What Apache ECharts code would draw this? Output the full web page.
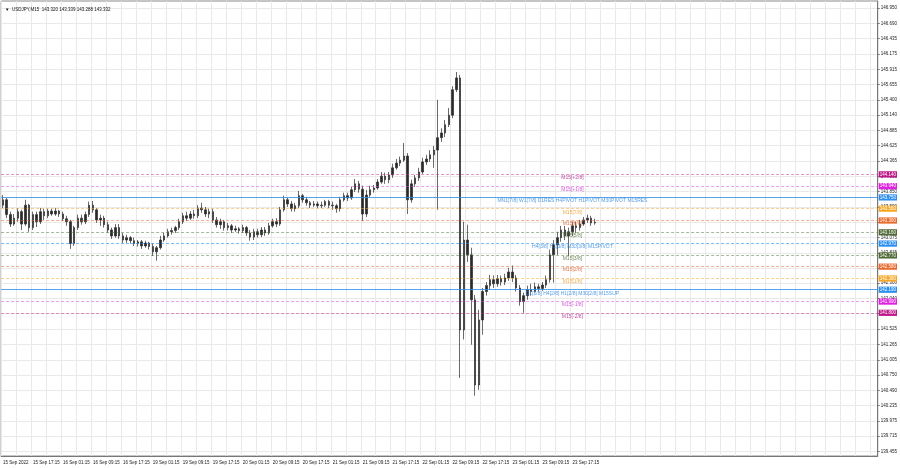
<!DOCTYPE html>
<html><head><meta charset="utf-8">
<script src="https://cdn.jsdelivr.net/npm/echarts@6/dist/echarts.min.js"></script>
<style>html,body{margin:0;padding:0;background:#fff}#c{width:900px;height:468px}</style>
</head><body><div id="c"></div>
<script>
// hourly candles [open, close, low, high]
const candles = [
[143.62,143.71,143.57,143.79],[143.71,143.46,143.40,143.74],[143.46,143.30,143.25,143.51],[143.30,143.40,143.27,143.47],
[143.40,143.51,143.34,143.57],[143.51,143.30,143.20,143.54],[143.30,143.62,143.27,143.71],[143.62,143.24,143.17,143.64],
[143.24,143.46,143.20,143.51],[143.46,143.34,143.25,143.51],[143.34,143.51,143.30,143.57],[143.51,143.44,143.37,143.56],
[143.44,143.52,143.40,143.56],[143.52,143.47,143.44,143.56],[143.47,143.52,143.44,143.57],[143.52,143.47,143.42,143.54],
[143.47,143.39,143.35,143.51],[143.39,143.34,143.27,143.44],[143.34,142.97,142.88,143.37],[142.97,143.24,142.93,143.27],
[143.24,143.40,143.20,143.46],[143.40,143.34,143.29,143.46],[143.34,143.46,143.30,143.51],[143.46,143.62,143.42,143.68],
[143.62,143.54,143.49,143.69],[143.54,143.37,143.32,143.57],[143.37,143.40,143.27,143.46],[143.40,143.29,143.24,143.44],
[143.29,143.20,143.15,143.34],[143.20,143.10,143.05,143.24],[143.10,143.24,143.07,143.30],[143.24,143.10,143.05,143.30],
[143.10,143.03,142.98,143.15],[143.03,143.07,142.98,143.12],[143.07,143.02,142.97,143.10],[143.02,142.97,142.93,143.07],
[142.97,143.00,142.92,143.03],[143.00,142.93,142.88,143.03],[142.93,142.98,142.90,143.02],[142.98,142.92,142.87,143.00],
[142.92,142.83,142.76,142.97],[142.83,142.90,142.68,142.93],[142.90,143.03,142.87,143.10],[143.03,143.10,143.00,143.15],
[143.10,143.17,143.07,143.22],[143.17,143.19,143.12,143.24],[143.19,143.24,143.15,143.27],[143.24,143.34,143.20,143.39],
[143.34,143.44,143.30,143.49],[143.44,143.40,143.35,143.51],[143.40,143.47,143.37,143.52],[143.47,143.44,143.39,143.54],
[143.44,143.57,143.40,143.62],[143.57,143.54,143.49,143.66],[143.54,143.47,143.42,143.59],[143.47,143.51,143.40,143.56],
[143.51,143.37,143.32,143.56],[143.37,143.29,143.24,143.42],[143.29,143.34,143.22,143.39],[143.34,143.24,143.19,143.37],
[143.24,143.27,143.19,143.32],[143.27,143.20,143.15,143.30],[143.20,143.22,143.17,143.27],[143.22,143.19,143.14,143.25],
[143.19,143.24,143.15,143.29],[143.24,143.15,143.10,143.27],[143.15,143.08,143.02,143.20],[143.08,143.17,143.03,143.22],
[143.17,143.12,143.07,143.22],[143.12,143.20,143.08,143.25],[143.20,143.15,143.10,143.25],[143.15,143.27,143.12,143.32],
[143.27,143.34,143.24,143.39],[143.34,143.30,143.25,143.40],[143.30,143.54,143.27,143.59],[143.54,143.71,143.51,143.78],
[143.71,143.64,143.59,143.74],[143.64,143.56,143.51,143.69],[143.56,143.61,143.51,143.66],[143.61,143.78,143.57,143.86],
[143.78,143.71,143.66,143.81],[143.71,143.66,143.61,143.76],[143.66,143.62,143.57,143.69],[143.62,143.64,143.59,143.69],
[143.64,143.61,143.57,143.68],[143.61,143.62,143.57,143.68],[143.62,143.68,143.59,143.71],[143.68,143.62,143.57,143.71],
[143.62,143.61,143.54,143.68],[143.61,143.56,143.49,143.64],[143.56,143.71,143.51,143.76],[143.71,143.78,143.68,143.83],
[143.78,143.74,143.69,143.83],[143.74,143.88,143.71,143.93],[143.88,143.98,143.84,144.06],[143.98,143.89,143.83,144.03],
[143.89,143.47,143.35,143.95],[143.47,143.79,143.42,143.88],[143.79,143.88,143.76,143.95],[143.88,143.91,143.83,143.96],
[143.91,144.01,143.88,144.06],[144.01,144.11,143.98,144.18],[144.11,144.05,143.98,144.17],[144.05,144.13,143.99,144.18],
[144.13,144.25,144.08,144.32],[144.25,144.33,144.22,144.40],[144.33,144.38,144.28,144.44],[144.38,144.45,144.35,144.67],
[144.45,143.71,143.47,144.50],[143.71,143.98,143.66,144.05],[143.98,144.08,143.93,144.13],[144.08,144.18,144.03,144.25],
[144.18,144.35,144.15,144.42],[144.35,144.40,144.30,144.47],[144.40,144.47,144.35,144.55],[144.47,144.55,144.25,144.62],
[144.55,144.76,143.54,145.40],[144.76,144.84,144.69,144.92],[144.84,144.98,144.77,145.06],[144.98,145.14,144.94,145.26],
[145.14,145.57,145.09,145.63],[145.57,145.77,145.53,145.87],[145.77,141.51,140.70,145.82],[141.51,143.03,141.35,143.34],
[143.03,142.78,142.66,143.29],[142.78,142.02,141.26,142.90],[142.02,140.58,140.40,142.10],[140.58,141.68,140.50,141.85],
[141.68,142.16,141.43,142.22],[142.16,142.26,142.09,142.32],[142.26,142.36,142.19,142.44],[142.36,142.29,142.22,142.43],
[142.29,142.38,142.24,142.44],[142.38,142.32,142.26,142.43],[142.32,142.39,142.27,142.46],[142.39,142.49,142.34,142.56],
[142.49,142.39,142.32,142.60],[142.39,142.22,142.16,142.44],[142.22,141.99,141.92,142.27],[141.99,142.09,141.80,142.14],
[142.09,142.19,142.02,142.26],[142.19,142.16,142.09,142.29],[142.16,142.24,142.14,142.31],[142.24,142.21,142.16,142.29],
[142.21,142.27,142.17,142.32],[142.27,142.36,142.22,142.43],[142.36,142.78,142.31,142.87],[142.78,142.95,142.31,143.03],
[142.95,143.07,142.78,143.17],[143.07,143.20,143.00,143.27],[143.20,143.10,143.03,143.27],[143.10,143.17,142.76,143.24],
[143.17,143.27,143.10,143.34],[143.27,143.24,143.15,143.34],[143.24,143.30,143.19,143.37],[143.30,143.37,143.27,143.42],
[143.37,143.40,143.32,143.46],[143.40,143.32,143.27,143.44],[143.32,143.33,143.29,143.39]
];
const timeLabels = ["15 Sep 2022","15 Sep 17:15","16 Sep 01:15","16 Sep 09:15","16 Sep 17:15","19 Sep 01:15","19 Sep 09:15","19 Sep 17:15","20 Sep 01:15","20 Sep 09:15","20 Sep 17:15","21 Sep 01:15","21 Sep 09:15","21 Sep 17:15","22 Sep 01:15","22 Sep 09:15","22 Sep 17:15","23 Sep 01:15","23 Sep 09:15","23 Sep 17:15"];
const slotCount = 234;      // hourly slots across the plot (incl. empty right margin)
const slotsPerLabel = 8;
const slotsPerGrid = 4;
const yTicks = [146.950,146.690,146.435,146.175,145.915,145.655,145.400,145.140,144.885,144.625,144.365,144.105,143.850,143.590,143.335,143.075,142.815,142.560,142.300,142.040,141.785,141.525,141.265,141.005,140.750,140.490,140.235,139.975,139.715,139.455];
const levelValues = [144.141,143.945,143.750,143.555,143.359,143.164,142.969,142.773,142.578,142.383,142.188,141.993,141.797];
const levelNames = ["M15[+2/8]","M15[+1/8]","MN1[7/8] W1[7/8] D1RES H4PIVOT H1PIVOT M30PIVOT M15RES","M15[7/8]","M15[6/8]","M15[5/8]","H4[3/8] H1[3/8] M30[3/8] M15PIVOT","M15[3/8]","M15[2/8]","M15[1/8]","D1[2/8] H4[2/8] H1[2/8] M30[2/8] M15SUP","M15[-1/8]","M15[-2/8]"];
const levelColors = ["#c0168a","#e020e0","#2a8ff0","#f5a623","#e8692a","#4f6b35","#2a8ff0","#4f6b35","#e8692a","#f5a623","#2a8ff0","#e020e0","#c0168a"];
const levelTextColors = ["#b0208f","#d030d0","#2a86e0","#f09a20","#e06020","#4f6b35","#2a86e0","#4f6b35","#e06020","#f09a20","#2a86e0","#d030d0","#b0208f"];
const levelLineColors = ["rgba(200,40,140,0.5)","rgba(225,60,225,0.5)","rgba(40,140,235,0.8)","rgba(245,165,50,0.55)","rgba(230,100,40,0.5)","rgba(80,115,55,0.5)","rgba(40,140,235,0.6)","rgba(80,115,55,0.5)","rgba(230,100,40,0.5)","rgba(245,165,50,0.55)","rgba(40,140,235,0.8)","rgba(225,60,225,0.5)","rgba(200,40,140,0.5)"];
const levelSolid = [false,false,true,false,false,false,false,false,false,false,true,false,false];
const levelTextSlot = 152;
const header = "\u25BC  USDJPY,M15  143.320 143.339 143.288 143.332";

const cats = [];
for (let i = 0; i < slotCount; i++) cats.push(String(i));
const FONT = "Liberation Sans";
const FS = 4.5;

const chart = echarts.init(document.getElementById('c'), null, {renderer: 'canvas'});
chart.setOption({
  animation: false,
  backgroundColor: '#ffffff',
  title: {text: header, left: 0, top: 2, textStyle: {fontSize: FS, fontWeight: 'normal', color: '#111', fontFamily: FONT}},
  grid: {left: 0, right: 22, top: 1, bottom: 12, show: true, borderColor: '#8a8a8a', borderWidth: 1, backgroundColor: 'transparent'},
  xAxis: {
    type: 'category', data: cats, boundaryGap: true,
    axisLine: {show: true, lineStyle: {color: '#777'}},
    axisTick: {show: false},
    axisLabel: {
      interval: (idx) => idx % slotsPerLabel === 0 && idx / slotsPerLabel < timeLabels.length,
      formatter: (v, idx) => timeLabels[idx / slotsPerLabel] || '',
      align: 'left', fontSize: FS, color: '#222', margin: 4, fontFamily: FONT
    },
    splitLine: {show: true, interval: (idx) => idx % slotsPerGrid === 0, lineStyle: {color: '#e9e9e9', width: 1}}
  },
  yAxis: {
    type: 'value', position: 'right', min: 139.38, max: 147.07, scale: true,
    axisLine: {show: true, lineStyle: {color: '#777'}},
    axisTick: {show: true, length: 2, customValues: yTicks, lineStyle: {color: '#777'}},
    axisLabel: {customValues: yTicks, formatter: (v) => v.toFixed(3), fontSize: FS, color: '#222', margin: 3, fontFamily: FONT},
    splitLine: {show: true, lineStyle: {color: '#e9e9e9', width: 1}}
  },
  series: [
    {
      type: 'candlestick', name: 'USDJPY', data: candles, barWidth: 2,
      itemStyle: {color: '#2a2a2a', color0: '#2a2a2a', borderColor: '#2a2a2a', borderColor0: '#2a2a2a', borderWidth: 0.7},
      z: 3
    },
    {
      type: 'scatter', name: 'levels', symbolSize: 0, itemStyle: {color: 'rgba(0,0,0,0)'}, z: 4, silent: true,
      labelLayout: {hideOverlap: false},
      data: levelValues.map((v, i) => ({
        value: [levelTextSlot, v],
        label: {show: true, position: 'bottom', distance: 0.8, formatter: levelNames[i], color: levelTextColors[i], fontSize: 5, fontFamily: FONT}
      })),
      markLine: {
        silent: true, symbol: ['none', 'none'], animation: false,
        data: levelValues.map((v, i) => ({
          yAxis: v,
          lineStyle: {color: levelLineColors[i], type: levelSolid[i] ? 'solid' : [3, 2], width: 1},
          label: {show: true, position: 'end', distance: 1, formatter: (p) => Number(p.value).toFixed(3),
                  color: '#fff', backgroundColor: levelColors[i], padding: [0.6, 1], fontSize: FS, fontFamily: FONT}
        }))
      }
    }
  ]
});
</script></body></html>
